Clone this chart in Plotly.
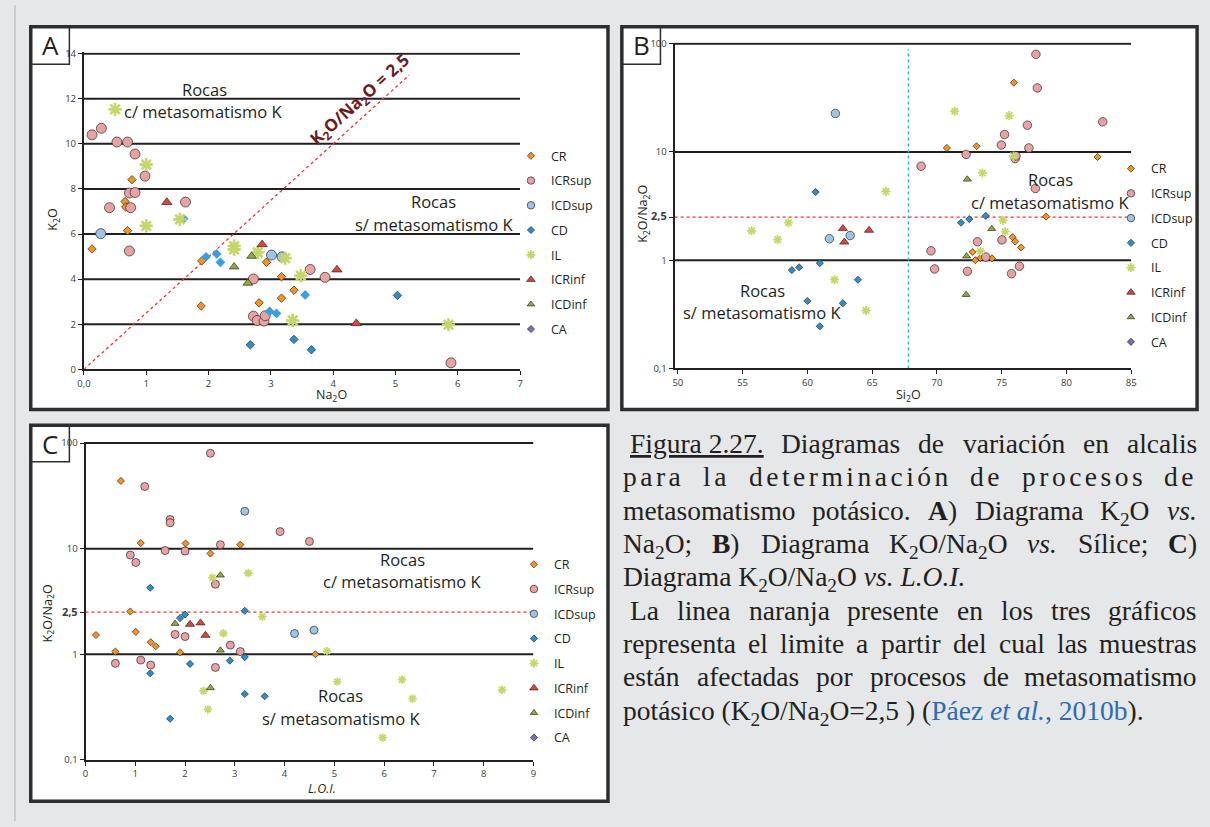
import re
import plotly.graph_objects as go

W, H = 1210, 827


def PX(v):
    return v / W


def PY(v):
    return 1 - v / H


# ======================= DATA =======================
series_names = ["CR", "ICRsup", "ICDsup", "CD", "IL", "ICRinf", "ICDinf", "CA"]
ratio_limit = 2.5

# ---- Panel A : K2O vs Na2O ----
a_cr_na2o = [0.13, 0.77, 0.66, 0.67, 0.70, 1.89, 1.88, 2.93, 3.17, 3.17, 2.81, 3.37]
a_cr_k2o = [5.34, 8.41, 7.44, 7.20, 6.15, 4.81, 2.81, 4.75, 4.11, 3.16, 2.95, 3.51]
a_icrsup_na2o = [0.13, 0.28, 0.53, 0.70, 0.82, 0.98, 0.73, 0.82, 0.41, 0.75, 1.63, 0.73,
                 2.72, 2.72, 2.78, 2.89, 2.91, 3.63, 3.87, 5.89]
a_icrsup_k2o = [10.40, 10.69, 10.08, 10.08, 9.55, 8.57, 7.82, 7.84, 7.17, 7.17, 7.42, 5.25,
                4.01, 2.36, 2.17, 2.14, 2.38, 4.43, 4.08, 0.29]
a_icdsup_na2o = [0.27, 3.01, 3.18]
a_icdsup_k2o = [6.02, 5.07, 4.99]
a_cd_na2o = [2.67, 3.37, 3.65, 5.03]
a_cd_k2o = [1.09, 1.33, 0.87, 3.28]
a_cd_plain_na2o = [1.60, 1.96, 2.13, 2.19, 2.98, 3.09, 3.55]
a_cd_plain_k2o = [6.68, 4.99, 5.12, 4.75, 2.57, 2.48, 3.30]
a_il_na2o = [0.50, 1.00, 1.00, 1.54, 2.41, 2.41, 2.79, 3.23, 3.48, 3.35, 5.85]
a_il_k2o = [11.53, 9.08, 6.36, 6.65, 5.47, 5.32, 5.19, 4.93, 4.16, 2.17, 1.98]
a_icrinf_na2o = [1.33, 2.86, 4.06, 4.37]
a_icrinf_k2o = [7.41, 5.54, 4.42, 2.04]
a_icdinf_na2o = [2.41, 2.69, 2.63]
a_icdinf_k2o = [4.55, 5.02, 3.83]
a_na2o_range = [0, 7]
a_k2o_range = [0, 14.052]
a_guide_levels = [2, 4, 6, 8, 10, 12, 14]
a_limit_end_na2o = 5.22
a_xticks = [0, 1, 2, 3, 4, 5, 6, 7]
a_xticktext = ["0,0", "1", "2", "3", "4", "5", "6", "7"]
a_yticks = [0, 2, 4, 6, 8, 10, 12, 14]

# ---- Panel B : K2O/Na2O vs SiO2 ----
b_cr_si = [75.94, 70.77, 73.06, 82.40, 78.43, 75.84, 76.04, 76.50, 72.75, 72.96, 73.36, 74.25]
b_cr_ratio = [43.7, 10.9, 11.3, 9.0, 2.53, 1.63, 1.49, 1.31, 1.19, 1.00, 1.05, 1.04]
b_icrsup_si = [77.64, 77.75, 82.80, 76.98, 75.22, 74.97, 77.10, 72.25, 76.04, 76.10, 68.78, 77.60,
               73.13, 75.02, 69.54, 73.77, 69.82, 72.35, 76.37, 75.76]
b_icrsup_ratio = [79.9, 39.1, 19.0, 17.7, 14.5, 11.6, 10.9, 9.5, 8.7, 9.2, 7.39, 4.6,
                  1.48, 1.54, 1.22, 1.07, 0.83, 0.79, 0.88, 0.75]
b_icdsup_si = [62.16, 61.70, 63.30]
b_icdsup_ratio = [22.7, 1.58, 1.69]
b_cd_si = [60.63, 58.80, 59.36, 60.96, 63.90, 60.00, 62.74, 60.96, 73.77, 72.50, 71.86]
b_cd_ratio = [4.26, 0.81, 0.86, 0.94, 0.66, 0.42, 0.40, 0.245, 2.57, 2.40, 2.22]
b_il_si = [55.70, 57.70, 58.54, 66.06, 62.09, 64.53, 71.37, 75.58, 75.91, 73.51, 75.10, 75.27, 73.36]
b_il_ratio = [1.87, 1.55, 2.22, 4.32, 0.66, 0.343, 23.8, 21.7, 9.2, 6.4, 2.33, 1.84, 1.21]
b_icrinf_si = [62.74, 62.85, 64.76]
b_icrinf_ratio = [1.96, 1.47, 1.89]
b_icdinf_si = [72.35, 74.23, 72.29, 72.25]
b_icdinf_ratio = [5.59, 1.95, 1.09, 0.48]
b_si_range = [49.75, 85]
b_guide_levels = [1, 10, 100]
b_silica_limit = 67.8
b_silica_limit_span = [0.1, 89]
b_xticks = [50, 55, 60, 65, 70, 75, 80, 85]

# ---- Panel C : K2O/Na2O vs L.O.I. ----
c_cr_loi = [0.71, 1.11, 2.01, 3.11, 2.51, 0.90, 0.21, 1.01, 1.31, 1.41, 0.60, 1.90, 4.62]
c_cr_ratio = [43.8, 11.3, 11.2, 10.9, 9.0, 2.54, 1.52, 1.63, 1.30, 1.19, 1.06, 1.04, 1.00]
c_icrsup_loi = [2.51, 1.19, 1.70, 1.70, 3.91, 4.50, 0.90, 1.01, 1.60, 2.00, 2.71, 2.61,
                1.80, 2.00, 2.91, 3.11, 0.60, 1.11, 1.31, 2.61]
c_icrsup_ratio = [80.0, 38.8, 18.9, 17.6, 14.5, 11.7, 8.7, 7.4, 9.6, 9.5, 10.9, 4.6,
                  1.54, 1.47, 1.22, 1.06, 0.82, 0.88, 0.79, 0.75]
c_icdsup_loi = [3.20, 4.20, 4.59]
c_icdsup_ratio = [22.6, 1.57, 1.69]
c_cd_loi = [1.30, 1.90, 2.00, 3.20, 1.30, 2.10, 2.90, 3.20, 3.20, 3.60, 1.70]
c_cd_ratio = [4.26, 2.20, 2.38, 2.58, 0.66, 0.81, 0.87, 0.94, 0.42, 0.40, 0.245]
c_il_loi = [2.55, 3.27, 3.55, 2.77, 2.37, 2.46, 4.85, 5.06, 6.36, 6.57, 5.97, 8.37]
c_il_ratio = [5.32, 5.88, 2.27, 1.58, 0.45, 0.30, 1.07, 0.55, 0.575, 0.38, 0.162, 0.46]
c_icrinf_loi = [2.10, 2.31, 2.41]
c_icrinf_ratio = [1.92, 1.98, 1.51]
c_icdinf_loi = [2.71, 1.80, 2.71, 2.51]
c_icdinf_ratio = [5.60, 1.95, 1.09, 0.48]
c_loi_range = [0, 9]
c_guide_levels = [1, 10, 100]
c_xticks = [0, 1, 2, 3, 4, 5, 6, 7, 8, 9]

log_ticks = [0.1, 1, 2.5, 10, 100]
log_ticktext = ["0,1", "1", "<b><span style='font-size:11px'>2,5</span></b>", "10", "100"]
log_range = [-1, 2.011]

# ======================= STYLE =======================
INK = "#231f20"
OUTLINE = "#2b2b2b"
RED = "#ff2d2d"
STY = {
    "CR": ("diamond", "#f7931e"),
    "ICRsup": ("circle", "#e9a2a3"),
    "ICDsup": ("circle", "#9fc4e6"),
    "CD": ("diamond", "#2b8fcb"),
    "IL": ("asterisk", "#c5d76a"),
    "ICRinf": ("triangle-up", "#e0433b"),
    "ICDinf": ("triangle-up", "#8dae3c"),
    "CA": ("diamond", "#7f6db3"),
}
SANS = "Open Sans"

fig = go.Figure()


def marker_for(name, size):
    sym, col = STY[name]
    if sym == "asterisk":
        return dict(symbol=sym, size=size, color=col,
                    line=dict(color=col, width=max(1.8, size * 0.24)))
    return dict(symbol=sym, size=size, color=col, line=dict(color=OUTLINE, width=0.7))


def add_lines(x, y, xa, ya, color, width, dash="solid"):
    fig.add_trace(go.Scatter(x=x, y=y, mode="lines", xaxis=xa, yaxis=ya,
                             line=dict(color=color, width=width, dash=dash),
                             showlegend=False, hoverinfo="skip"))


def add_points(x, y, name, xa, ya, size, marker=None):
    fig.add_trace(go.Scatter(x=x, y=y, mode="markers", name=name, xaxis=xa, yaxis=ya,
                             marker=marker or marker_for(name, size), showlegend=False))


LEG_SIZE = {"CR": 5.5, "ICRsup": 7.5, "ICDsup": 7.5, "CD": 5.5, "IL": 7.5,
            "ICRinf": 7.5, "ICDinf": 6.5, "CA": 5.5}


def add_legend(leg, xa, ya):
    for nm in series_names:
        fig.add_trace(go.Scatter(x=[None], y=[None], mode="markers", name=nm,
                                 xaxis=xa, yaxis=ya, legend=leg,
                                 legendgroup=leg + nm, marker=marker_for(nm, LEG_SIZE[nm]),
                                 showlegend=True))


# ---------- Panel A ----------
for lvl in a_guide_levels:
    add_lines(a_na2o_range, [lvl, lvl], "x", "y", INK, 2)
add_lines([0, a_limit_end_na2o], [0, ratio_limit * a_limit_end_na2o], "x", "y", RED, 1.3, "dot")
add_points(a_cr_na2o, a_cr_k2o, "CR", "x", "y", 6.5)
add_points(a_icrsup_na2o, a_icrsup_k2o, "ICRsup", "x", "y", 10)
add_points(a_icdsup_na2o, a_icdsup_k2o, "ICDsup", "x", "y", 10)
add_points(a_cd_plain_na2o, a_cd_plain_k2o, "CD", "x", "y", 7.5,
           marker=dict(symbol="diamond", size=7.5, color="#3a9ee2", line=dict(width=0)))
add_points(a_cd_na2o, a_cd_k2o, "CD", "x", "y", 6.5)
add_points(a_il_na2o, a_il_k2o, "IL", "x", "y", 11)
add_points(a_icrinf_na2o, a_icrinf_k2o, "ICRinf", "x", "y", 9)
add_points(a_icdinf_na2o, a_icdinf_k2o, "ICDinf", "x", "y", 8.5)
add_legend("legend", "x", "y")

# ---------- Panel B ----------
for lvl in b_guide_levels:
    add_lines(b_si_range, [lvl, lvl], "x2", "y2", INK, 2)
add_lines(b_si_range, [ratio_limit, ratio_limit], "x2", "y2", RED, 1.3, "dot")
add_lines([b_silica_limit, b_silica_limit], b_silica_limit_span, "x2", "y2", "#33b6f2", 1.6, "dot")
add_points(b_cr_si, b_cr_ratio, "CR", "x2", "y2", 5.5)
add_points(b_icrsup_si, b_icrsup_ratio, "ICRsup", "x2", "y2", 8.5)
add_points(b_icdsup_si, b_icdsup_ratio, "ICDsup", "x2", "y2", 8.5)
add_points(b_cd_si, b_cd_ratio, "CD", "x2", "y2", 5.5)
add_points(b_il_si, b_il_ratio, "IL", "x2", "y2", 7.5)
add_points(b_icrinf_si, b_icrinf_ratio, "ICRinf", "x2", "y2", 8)
add_points(b_icdinf_si, b_icdinf_ratio, "ICDinf", "x2", "y2", 7)
add_legend("legend2", "x2", "y2")

# ---------- Panel C ----------
for lvl in c_guide_levels:
    add_lines(c_loi_range, [lvl, lvl], "x3", "y3", INK, 2)
add_lines(c_loi_range, [ratio_limit, ratio_limit], "x3", "y3", RED, 1.3, "dot")
add_points(c_cr_loi, c_cr_ratio, "CR", "x3", "y3", 5.5)
add_points(c_icrsup_loi, c_icrsup_ratio, "ICRsup", "x3", "y3", 8)
add_points(c_icdsup_loi, c_icdsup_ratio, "ICDsup", "x3", "y3", 8)
add_points(c_cd_loi, c_cd_ratio, "CD", "x3", "y3", 5.5)
add_points(c_il_loi, c_il_ratio, "IL", "x3", "y3", 7)
add_points(c_icrinf_loi, c_icrinf_ratio, "ICRinf", "x3", "y3", 8)
add_points(c_icdinf_loi, c_icdinf_ratio, "ICDinf", "x3", "y3", 7)
add_legend("legend3", "x3", "y3")

# ======================= AXES =======================
tickfont = dict(family=SANS, size=9.5, color="#3a3a3a")


def axis(**kw):
    base = dict(showline=True, linecolor=INK, linewidth=2, ticks="outside", ticklen=4,
                tickwidth=1.3, tickcolor=INK, showgrid=False, zeroline=False,
                tickfont=tickfont, tickmode="array", fixedrange=True)
    base.update(kw)
    return base


legend_common = dict(xanchor="left", yanchor="top", bgcolor="rgba(0,0,0,0)", borderwidth=0,
                     font=dict(family=SANS, size=12.5, color=INK), traceorder="grouped",
                     tracegroupgap=5.5, itemwidth=30)

fig.update_layout(
    width=W, height=H, autosize=False,
    margin=dict(l=0, r=0, t=0, b=0),
    paper_bgcolor="#e6e7e8", plot_bgcolor="white",
    showlegend=True,
    xaxis=axis(domain=[PX(77.7), PX(518.3)], range=a_na2o_range, anchor="y",
               tickvals=a_xticks, ticktext=a_xticktext),
    yaxis=axis(domain=[PY(369.3), PY(48.1)], range=a_k2o_range, anchor="x",
               tickvals=a_yticks, ticktext=[str(v) for v in a_yticks]),
    xaxis2=axis(domain=[PX(674.3), PX(1135.5)], range=b_si_range, anchor="y2",
                tickvals=b_xticks, ticktext=[str(v) for v in b_xticks]),
    yaxis2=axis(domain=[PY(368.3), PY(38.1)], type="log", range=log_range, anchor="x2",
                tickvals=log_ticks, ticktext=log_ticktext),
    xaxis3=axis(domain=[PX(79.3), PX(531.7)], range=c_loi_range, anchor="y3",
                tickvals=c_xticks, ticktext=[str(v) for v in c_xticks]),
    yaxis3=axis(domain=[PY(765), PY(442.8)], type="log", range=log_range, anchor="x3",
                tickvals=log_ticks, ticktext=log_ticktext),
    legend=dict(x=PX(509), y=PY(138), **legend_common),
    legend2=dict(x=PX(1115), y=PY(151), **legend_common),
    legend3=dict(x=PX(512), y=PY(552), **legend_common),
)

# ======================= FRAMES =======================
shapes = []
for (x0, y0, x1, y1) in [(24, 22, 607, 410), (621, 22, 1202, 410), (24, 426, 607, 807)]:
    shapes.append(dict(type="rect", xref="paper", yref="paper", x0=PX(x0), x1=PX(x1),
                       y0=PY(y1), y1=PY(y0), line=dict(color="#2e2e2e", width=3.5),
                       fillcolor="white", layer="below"))
for (x0, y0, x1, y1) in [(24, 22, 63, 60), (621, 22, 660, 60), (24, 426, 63, 463)]:
    shapes.append(dict(type="rect", xref="paper", yref="paper", x0=PX(x0), x1=PX(x1),
                       y0=PY(y1), y1=PY(y0), line=dict(color="#2e2e2e", width=1.5),
                       fillcolor="rgba(0,0,0,0)", layer="above"))
shapes.append(dict(type="line", xref="paper", yref="paper", x0=PX(8), x1=PX(8), y0=0, y1=1,
                   line=dict(color="#c4c4c4", width=1.5)))
fig.update_layout(shapes=shapes)

# ======================= TEXT =======================
ann = []


def text(x, y, s, size=16.5, color=INK, family=SANS, angle=0, xanchor="center",
         yanchor="middle"):
    ann.append(dict(x=PX(x), y=PY(y), xref="paper", yref="paper", text=s, showarrow=False,
                    xanchor=xanchor, yanchor=yanchor, textangle=angle, borderpad=0,
                    borderwidth=0, font=dict(family=family, size=size, color=color)))


# panel letters
text(43.5, 41, "A", size=26)
text(640.5, 41, "B", size=26)
text(43.5, 445, "C", size=26)

# zone labels
text(199, 86, "Rocas")
text(198, 108, "c/ metasomatismo K")
text(431, 199, "Rocas")
text(431, 222, "s/ metasomatismo K")
text(1054, 177, "Rocas")
text(1053, 200, "c/ metasomatismo K")
text(763, 289, "Rocas")
text(763, 312, "s/ metasomatismo K")
text(399, 562, "Rocas")
text(399, 584, "c/ metasomatismo K")
text(337, 700, "Rocas")
text(337, 723, "s/ metasomatismo K")

# ratio label on diagonal
text(357, 96, "<b>K<sub>2</sub>O/Na<sub>2</sub>O = 2,5</b>", size=17, color="#6a1c21", angle=-42)

# axis titles
text(47, 218, "K<sub>2</sub>O", size=12.5, angle=-90)
text(328, 396, "Na<sub>2</sub>O", size=12.5)
text(643, 212, "K<sub>2</sub>O/Na<sub>2</sub>O", size=12.5, angle=-90)
text(911, 396, "Si<sub>2</sub>O", size=12.5)
text(42, 617, "K<sub>2</sub>O/Na<sub>2</sub>O", size=12.5, angle=-90)
text(318, 794, "<i>L.O.I.</i>", size=12.5)

# ---------------- caption (justified like the original) ----------------
TR = {' ': 250, '(': 333, ')': 333, ',': 250, '.': 250, '/': 278, ':': 278, ';': 278, '=': 564,
      'A': 722, 'B': 667, 'C': 667, 'D': 722, 'F': 556, 'K': 722, 'L': 611, 'N': 722, 'O': 722,
      'P': 556, 'S': 556, 'a': 444, 'b': 500, 'c': 444, 'd': 500, 'e': 444, 'f': 333, 'g': 500,
      'h': 500, 'i': 278, 'j': 278, 'l': 278, 'm': 778, 'n': 500, 'o': 500, 'p': 500, 'r': 333,
      's': 389, 't': 278, 'u': 500, 'v': 500, 'z': 444, 'á': 444, 'é': 444, 'í': 278, 'ó': 500}
for d in "0123456789":
    TR[d] = 500
TI = {'v': 444, 's': 389, '.': 250, 'L': 556, 'O': 722, 'I': 333, 'e': 444, 't': 278, 'a': 500,
      'l': 278, ' ': 250}
TB = {'A': 722, 'B': 667, 'C': 722}

CAP_FONT = "Liberation Serif, Tinos, Times New Roman, serif"
CAP_SIZE = 27.5
CAP_RIGHT = 1202
CAP_BASE0 = 453.3
CAP_STEP = 33.75
CAP_ASC = 0.891


def text_width(html, size, ls=0.0):
    bold = ital = sub = False
    w = 0.0
    n = 0
    for tok in re.split(r"(<[^>]+>)", html):
        if tok.startswith("<"):
            t = tok.lower()
            if t == "<b>":
                bold = True
            elif t == "</b>":
                bold = False
            elif t == "<i>":
                ital = True
            elif t == "</i>":
                ital = False
            elif t == "<sub>":
                sub = True
            elif t == "</sub>":
                sub = False
            continue
        for ch in tok:
            if ital:
                cw = TI.get(ch, TR.get(ch, 500))
            elif bold:
                cw = TB.get(ch, TR.get(ch, 500))
            else:
                cw = TR.get(ch, 500)
            w += cw * (0.7 if sub else 1.0)
            n += 1
    return w / 1000.0 * size + n * ls


caption = [
    (629, ["<u>Figura 2.27.</u>", "Diagramas", "de", "variación", "en", "alcalis"], 0.0),
    (622, ["para", "la", "determinación", "de", "procesos", "de"], 3.5),
    (622, ["metasomatismo", "potásico.", "<b>A</b>)", "Diagrama", "K<sub>2</sub>O",
           "<i>vs.</i>"], 0.0),
    (622, ["Na<sub>2</sub>O;", "<b>B</b>)", "Diagrama", "K<sub>2</sub>O/Na<sub>2</sub>O",
           "<i>vs.</i>", "Sílice;", "<b>C</b>)"], 0.0),
    (622, "Diagrama K<sub>2</sub>O/Na<sub>2</sub>O <i>vs.</i> <i>L.O.I.</i>", 0.0),
    (629, ["La", "linea", "naranja", "presente", "en", "los", "tres", "gráficos"], 0.0),
    (622, ["representa", "el", "limite", "a", "partir", "del", "cual", "las", "muestras"], 0.0),
    (622, ["están", "afectadas", "por", "procesos", "de", "metasomatismo"], 0.0),
    (622, "potásico (K<sub>2</sub>O/Na<sub>2</sub>O=2,5 ) (<span style='color:#2c6cb2'>Páez "
          "<i>et al.</i>, 2010b</span>).", 0.0),
]

for i, (x0, words, ls) in enumerate(caption):
    top = CAP_BASE0 + i * CAP_STEP - CAP_ASC * CAP_SIZE
    if isinstance(words, str):
        text(x0, top, words, size=CAP_SIZE, family=CAP_FONT, xanchor="left", yanchor="top")
        continue
    widths = [text_width(wd, CAP_SIZE, ls) for wd in words]
    gap = (CAP_RIGHT - x0 - sum(widths)) / (len(words) - 1)
    xpos = x0
    for j, wd in enumerate(words):
        html = wd if ls == 0 else "<span style='letter-spacing:%.1fpx'>%s</span>" % (ls, wd)
        if j == len(words) - 1:
            text(CAP_RIGHT, top, html, size=CAP_SIZE, family=CAP_FONT, xanchor="right",
                 yanchor="top")
        else:
            text(xpos, top, html, size=CAP_SIZE, family=CAP_FONT, xanchor="left",
                 yanchor="top")
        xpos += widths[j] + gap

fig.update_layout(annotations=ann)

fig.write_html("out.html", config={"displayModeBar": False},
               post_script="document.body.style.margin='0px';")
